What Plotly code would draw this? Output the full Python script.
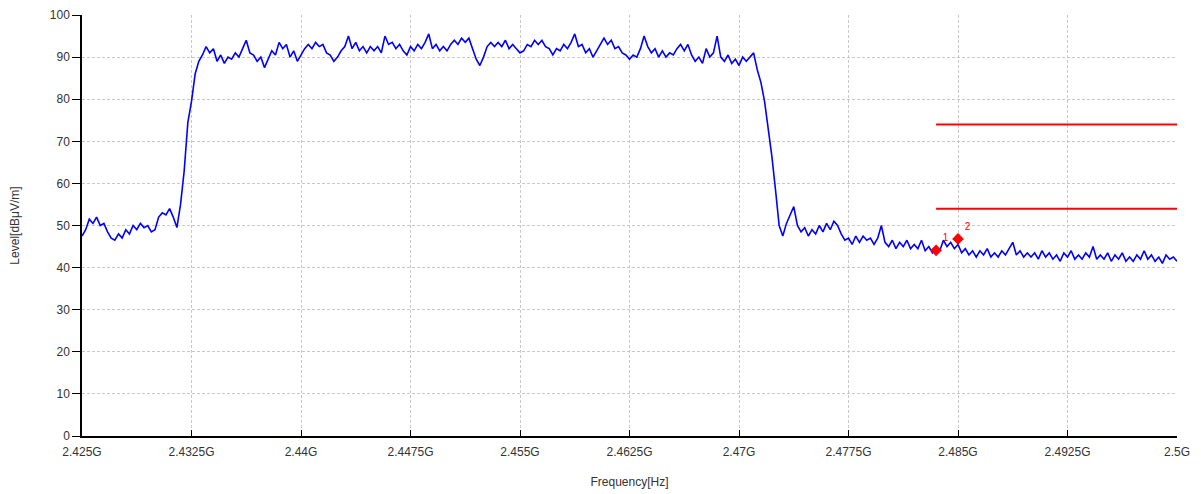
import numpy as np
import plotly.graph_objects as go

# Sweep: 2.425 GHz to 2.5 GHz, 0.25 MHz steps (301 points)
f_start_ghz = 2.425
f_stop_ghz = 2.5
n_points = 301

level_dbuv = [
    47.5, 49.0, 51.5, 50.5, 52.0, 50.0, 50.5, 48.5, 47.0, 46.5, 48.0, 47.0, 49.0, 48.0, 50.0, 49.0, 50.5, 49.5, 50.0, 48.5,
    49.0, 52.0, 53.0, 52.5, 54.0, 52.0, 49.5, 55.0, 63.0, 74.5, 79.5, 86.0, 89.0, 90.5, 92.5, 91.0, 92.0, 89.0, 90.5, 88.5,
    90.0, 89.5, 91.0, 90.0, 92.0, 94.0, 91.0, 90.5, 89.0, 90.0, 87.5, 89.5, 91.5, 90.5, 93.5, 92.0, 93.0, 90.0, 91.5, 89.0,
    90.5, 92.0, 93.0, 92.0, 93.5, 92.5, 93.0, 91.0, 90.5, 89.0, 90.0, 91.5, 92.5, 95.0, 92.0, 93.5, 91.5, 92.5, 91.0, 92.5,
    91.5, 92.5, 91.0, 95.0, 93.0, 93.5, 92.0, 93.0, 91.5, 90.5, 92.5, 91.5, 93.0, 92.0, 93.5, 95.5, 92.0, 93.0, 91.5, 92.5,
    91.5, 93.0, 94.0, 93.0, 94.5, 93.5, 94.5, 92.0, 89.5, 88.0, 90.0, 92.5, 93.5, 92.5, 93.5, 92.5, 94.0, 92.0, 93.0, 92.0,
    91.0, 91.5, 93.0, 92.5, 94.0, 93.0, 94.0, 92.5, 92.0, 90.5, 92.0, 91.5, 93.0, 92.0, 93.5, 95.5, 92.5, 93.0, 91.0, 92.0,
    90.0, 91.5, 93.0, 94.5, 93.0, 94.0, 92.0, 92.5, 91.0, 90.5, 89.5, 90.5, 90.0, 92.0, 95.0, 92.5, 91.0, 92.0, 90.0, 91.5,
    90.0, 91.0, 90.5, 92.0, 93.0, 91.5, 93.0, 90.5, 89.0, 90.0, 88.5, 92.0, 90.0, 91.0, 95.0, 90.0, 89.0, 90.5, 88.5, 89.5,
    88.0, 90.0, 89.0, 90.0, 91.0, 87.0, 84.0, 79.5, 73.0, 66.5, 58.5, 50.0, 47.5, 50.5, 52.5, 54.5, 50.0, 48.5, 49.5, 47.5,
    49.0, 48.0, 50.0, 48.5, 50.5, 49.0, 51.0, 50.0, 48.0, 46.5, 47.0, 45.5, 47.5, 46.0, 47.5, 46.5, 47.0, 45.5, 47.0, 50.0,
    46.0, 45.0, 46.5, 44.5, 46.0, 45.0, 46.5, 44.5, 45.5, 44.5, 46.5, 44.0, 45.0, 43.5, 44.5, 44.0, 46.5, 45.0, 46.0, 44.5,
    45.5, 43.5, 44.5, 43.0, 44.0, 42.5, 44.0, 43.0, 44.5, 42.5, 43.5, 42.5, 44.0, 43.0, 44.5, 46.0, 43.0, 44.0, 42.5, 43.5,
    42.5, 43.5, 42.0, 44.0, 42.5, 43.5, 42.0, 43.0, 41.5, 43.5, 42.5, 44.0, 42.0, 43.0, 42.0, 43.5, 42.5, 45.0, 42.0, 43.0,
    42.0, 43.5, 41.5, 43.0, 42.0, 43.5, 41.5, 42.5, 41.5, 43.0, 42.0, 44.0, 42.0, 43.0, 41.5, 42.5, 41.0, 43.0, 42.0, 42.5,
    41.5,
]

# Limit lines
limit_freq_ghz = [2.4835, 2.5]
limit_peak = [74, 74]
limit_avg = [54, 54]

# Markers
marker_freq_ghz = [2.4835, 2.485]
marker_level = [44.1, 46.8]
marker_labels = ["1", "2"]

# Axis ticks
x_tickvals = [2.425, 2.4325, 2.44, 2.4475, 2.455, 2.4625, 2.47, 2.4775, 2.485, 2.4925, 2.5]
x_ticktext = ["2.425G", "2.4325G", "2.44G", "2.4475G", "2.455G", "2.4625G", "2.47G",
              "2.4775G", "2.485G", "2.4925G", "2.5G"]
y_tickvals = [0, 10, 20, 30, 40, 50, 60, 70, 80, 90, 100]

freq_ghz = np.linspace(f_start_ghz, f_stop_ghz, n_points)

fig = go.Figure()
fig.add_trace(go.Scatter(
    x=freq_ghz, y=level_dbuv, mode="lines",
    line=dict(color="#0000FF", width=1.6),
    showlegend=False, hoverinfo="skip",
))
for lim in (limit_peak, limit_avg):
    fig.add_trace(go.Scatter(
        x=limit_freq_ghz, y=lim, mode="lines",
        line=dict(color="#FF0000", width=2),
        showlegend=False, hoverinfo="skip",
    ))
fig.add_trace(go.Scatter(
    x=marker_freq_ghz, y=marker_level, mode="markers+text",
    marker=dict(symbol="diamond", color="#FF0000", size=9),
    text=marker_labels, textposition="top right",
    textfont=dict(color="#FF0000", size=10, family="Liberation Sans, Arial, sans-serif"),
    showlegend=False, hoverinfo="skip",
))

grid = dict(showgrid=True, gridcolor="#C8C8C8", gridwidth=1, griddash="3px,2px")
fig.update_xaxes(
    range=[f_start_ghz, f_stop_ghz], tickmode="array", tickvals=x_tickvals, ticktext=x_ticktext,
    ticks="inside", ticklen=6, tickcolor="#000000", tickwidth=1, ticklabelstandoff=4,
    showline=True, linecolor="#000000", linewidth=1.5, zeroline=False, automargin=False,
    title=dict(text="Frequency[Hz]", standoff=19, font=dict(size=12, color="#333333")),
    tickfont=dict(size=12, color="#333333"),
    **grid,
)
fig.update_yaxes(
    range=[0, 100], tickmode="array", tickvals=y_tickvals,
    ticks="outside", ticklen=8, tickcolor="#000000", tickwidth=1,
    showline=True, linecolor="#000000", linewidth=1.5, zeroline=False, automargin=False,
    title=dict(text="Level[dBμV/m]", standoff=38, font=dict(size=12, color="#333333")),
    tickfont=dict(size=12, color="#333333"),
    **grid,
)
# The page body has an 8px default margin, so margins are shifted to place the plot area
fig.update_layout(
    width=1201, height=494,
    margin=dict(l=74, r=32, t=7, b=66),
    paper_bgcolor="#FFFFFF", plot_bgcolor="#FFFFFF",
    font=dict(family="Liberation Sans, Arial, sans-serif", size=12, color="#333333"),
)
fig.write_html("out.html")
